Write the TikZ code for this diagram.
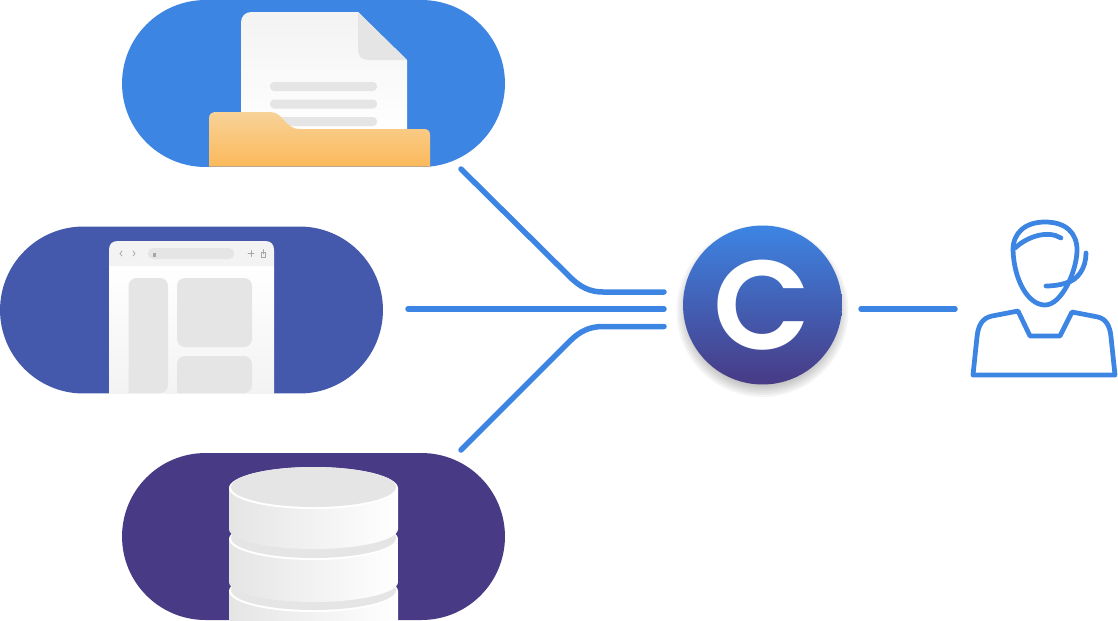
\documentclass[tikz,border=0pt]{standalone}
\usepackage{fontspec}
\usetikzlibrary{shapes.misc}
\newfontfamily\hubfont{Poppins SemiBold}

\definecolor{blueOne}{HTML}{3D85E3}
\definecolor{blueTwo}{HTML}{4459AB}
\definecolor{blueThree}{HTML}{483A85}
\definecolor{iconGray}{HTML}{E5E5E5}
\definecolor{paleGray}{HTML}{F3F3F3}
\definecolor{folderTop}{HTML}{F8D298}
\definecolor{folderLow}{HTML}{FBB95A}

\tikzset{
    pillbox/.style={rounded rectangle, minimum width=7.66cm, minimum height=3.34cm, inner sep=0pt},
    link/.style={draw=blueOne, line width=0.11cm, line cap=round},
    agentline/.style={draw=blueOne, line width=0.095cm, line cap=round, line join=round},
    dbside/.style={left color=iconGray, middle color=white, right color=white},
    panel/.style={fill=iconGray, rounded corners=0.16cm},
    toolicon/.style={draw=gray!70, line width=0.015cm, line cap=round}
}

\begin{document}
\begin{tikzpicture}[x=0.02cm,y=-0.02cm]
\useasboundingbox (0,0) rectangle (1118,620);

% Source pills
\node[pillbox, fill=blueOne] (filePill) at (313.5,83.5) {};
\node[pillbox, fill=blueTwo] (webPill) at (191.5,310) {};
\node[pillbox, fill=blueThree] (dataPill) at (313.5,536.5) {};

% Document
\path[top color=paleGray, middle color=white, bottom color=white, rounded corners=0.2cm]
    (241,135) -- (241,12) -- (300,12) [sharp corners] -- (358,12) -- (407,60) -- (407,135) -- cycle;
\path[fill=iconGray] (358,12) -- (407,60) -- (368,60) .. controls (362,60) and (358,56) .. (358,50) -- cycle;
\foreach \y in {82,99.5,117}
{
    \fill[iconGray, rounded corners=0.08cm] (270,\y) rectangle ++(107,9);
}

% Folder
\path[top color=folderTop, bottom color=folderLow]
    (209,166.5) -- (209,118) .. controls (209,114) and (212,112) .. (216,112)
    -- (270,112) .. controls (284,112) and (284,129) .. (300,129)
    -- (424,129) .. controls (428,129) and (430,131) .. (430,135) -- (430,166.5) -- cycle;

% Browser window
\path[top color=white, middle color=white, bottom color=paleGray]
    (109,266) rectangle (274,393);
\fill[paleGray] (109,266) -- (109,250) .. controls (109,244) and (112,241) .. (118,241)
    -- (265,241) .. controls (271,241) and (274,244) .. (274,250) -- (274,266) -- cycle;
\fill[iconGray, rounded corners=0.1cm] (148,248) rectangle (234,259);
\fill[gray!70] (152.5,253) rectangle (156,256.5);
\draw[toolicon] (122,251) -- (120,253.5) -- (122,256);
\draw[toolicon] (133,251) -- (135,253.5) -- (133,256);
\draw[toolicon] (248,253.5) -- (254,253.5) (251,250.5) -- (251,256.5);
\draw[toolicon] (261,252) rectangle (265.5,257.5) (263.2,249.5) -- (263.2,254);
\fill[panel] (128.5,393) -- (128.5,278) -- (168,278) -- (168,393) [sharp corners] -- cycle;
\fill[panel] (177,278) rectangle (252,347);
\fill[panel] (177,393) -- (177,356) -- (252,356) -- (252,393) [sharp corners] -- cycle;

% Database, bottom disc first
\foreach \c/\h in {591/29,539/43,488/41}
{
    \path[dbside] (229,\c) -- (229,\c+\h) arc[start angle=180, end angle=0, x radius=84.5, y radius=20] -- (398,\c) -- cycle;
    \fill[white] (313.5,\c) ellipse[x radius=84.5, y radius=21];
    \fill[iconGray] (313.5,\c-1) ellipse[x radius=82.5, y radius=20];
}

% Hub with soft shadow
\foreach \r in {70,72,...,86}
{
    \fill[black, opacity=0.04] (762.5,311) circle[radius=\r];
}
\node[circle, minimum size=3.18cm, inner sep=0pt, top color=blueOne, middle color=blueTwo, bottom color=blueThree, text=white] (hub) at (762.5,305)
    {\hubfont\fontsize{72}{72}\selectfont C};

% Connector ends
\coordinate (fileOut) at (461,169);
\coordinate (webOut) at (408,309);
\coordinate (dataOut) at (461,450);
\coordinate (hubInTop) at (664,292);
\coordinate (hubInMid) at (664,309);
\coordinate (hubInLow) at (664,326.5);
\coordinate (hubOut) at (861,309);
\coordinate (agentIn) at (955,309);

\draw[link] (fileOut) -- (570,277) .. controls (580,287) and (590,292) .. (603,292) -- (hubInTop);
\draw[link] (webOut) -- (hubInMid);
\draw[link] (dataOut) -- (570,341) .. controls (580,331) and (590,326.5) .. (603,326.5) -- (hubInLow);
\draw[link] (hubOut) -- (agentIn);

% Agent
\draw[agentline] (1045,305) .. controls (1028,305) and (1014,280) .. (1013,250)
    .. controls (1013,233) and (1025,222) .. (1045,222)
    .. controls (1066,222) and (1077,233) .. (1077,250)
    .. controls (1077,270) and (1062,305) .. (1045,305) -- cycle;
\draw[agentline] (1015,248) .. controls (1028,236) and (1048,230) .. (1061,238);
\draw[agentline] (1086,253) .. controls (1086,268) and (1078,280) .. (1066,283)
    .. controls (1060,285) and (1053,286) .. (1046,286);
\draw[agentline] (973,375) -- (977,337) .. controls (978,326) and (982,318) .. (992,316)
    -- (1018,311) -- (1030,336) -- (1060,336) -- (1072,312) -- (1098,317)
    .. controls (1106,319) and (1110,326) .. (1111,337) -- (1115,375) -- cycle;

\end{tikzpicture}
\end{document}
